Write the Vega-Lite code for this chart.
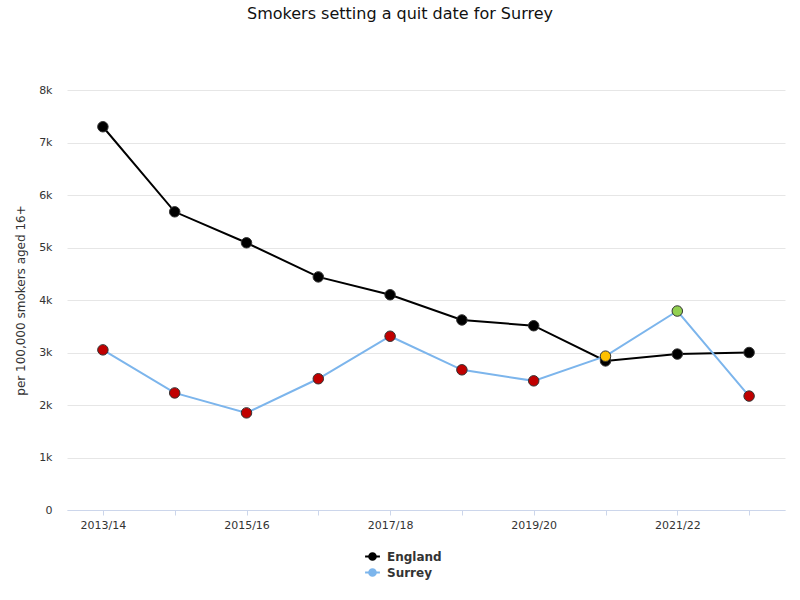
{
  "$schema": "https://vega.github.io/schema/vega-lite/v6.json",
  "autosize": {"type": "none"},
  "width": 718,
  "height": 420,
  "padding": {"left": 67, "top": 90, "right": 15, "bottom": 90},
  "background": "white",
  "title": {
    "text": "Smokers setting a quit date for Surrey",
    "font": "DejaVu Sans",
    "fontSize": 16,
    "fontWeight": "normal",
    "color": "#111",
    "anchor": "middle",
    "offset": 62,
    "dx": -26
  },
  "config": {
    "font": "DejaVu Sans",
    "view": {"stroke": null}
  },
  "data": {
    "values": [
      {"year": "2013/14", "series": "England", "value": 7300, "marker": "England"},
      {"year": "2014/15", "series": "England", "value": 5680, "marker": "England"},
      {"year": "2015/16", "series": "England", "value": 5090, "marker": "England"},
      {"year": "2016/17", "series": "England", "value": 4440, "marker": "England"},
      {"year": "2017/18", "series": "England", "value": 4100, "marker": "England"},
      {"year": "2018/19", "series": "England", "value": 3620, "marker": "England"},
      {"year": "2019/20", "series": "England", "value": 3510, "marker": "England"},
      {"year": "2020/21", "series": "England", "value": 2840, "marker": "England"},
      {"year": "2021/22", "series": "England", "value": 2970, "marker": "England"},
      {"year": "2022/23", "series": "England", "value": 3000, "marker": "England"},
      {"year": "2013/14", "series": "Surrey", "value": 3050, "marker": "Worse"},
      {"year": "2014/15", "series": "Surrey", "value": 2230, "marker": "Worse"},
      {"year": "2015/16", "series": "Surrey", "value": 1850, "marker": "Worse"},
      {"year": "2016/17", "series": "Surrey", "value": 2500, "marker": "Worse"},
      {"year": "2017/18", "series": "Surrey", "value": 3310, "marker": "Worse"},
      {"year": "2018/19", "series": "Surrey", "value": 2670, "marker": "Worse"},
      {"year": "2019/20", "series": "Surrey", "value": 2460, "marker": "Worse"},
      {"year": "2020/21", "series": "Surrey", "value": 2930, "marker": "Similar"},
      {"year": "2021/22", "series": "Surrey", "value": 3790, "marker": "Better"},
      {"year": "2022/23", "series": "Surrey", "value": 2170, "marker": "Worse"}
    ]
  },
  "encoding": {
    "x": {
      "field": "year",
      "type": "ordinal",
      "scale": {"type": "point", "padding": 0.5},
      "axis": {
        "title": null,
        "labelAngle": 0,
        "labelFontSize": 11,
        "labelColor": "#333",
        "labelPadding": 4,
        "labelExpr": "indexof(['2013/14','2015/16','2017/18','2019/20','2021/22'], datum.value) >= 0 ? datum.value : ''",
        "domainColor": "#ccd6eb",
        "tickColor": "#ccd6eb",
        "tickSize": 5,
        "grid": false
      }
    },
    "y": {
      "field": "value",
      "type": "quantitative",
      "scale": {"domain": [0, 8000], "nice": false},
      "axis": {
        "title": "per 100,000 smokers aged 16+",
        "titleFontSize": 12,
        "titleFontWeight": "normal",
        "titleColor": "#333",
        "titlePadding": 11,
        "format": "~s",
        "labelExpr": "datum.value == 0 ? '0' : datum.label",
        "labelFontSize": 11,
        "labelColor": "#333",
        "labelPadding": 15,
        "values": [0, 1000, 2000, 3000, 4000, 5000, 6000, 7000, 8000],
        "domain": false,
        "ticks": false,
        "gridColor": "#e6e6e6"
      }
    }
  },
  "layer": [
    {
      "mark": {"type": "line", "strokeWidth": 2},
      "encoding": {
        "color": {
          "field": "series",
          "type": "nominal",
          "scale": {"domain": ["England", "Surrey"], "range": ["#000000", "#7cb5ec"]},
          "legend": {
            "title": null,
            "orient": "none",
            "legendX": 297,
            "legendY": 458,
            "direction": "vertical",
            "labelFontSize": 12,
            "labelFontWeight": "bold",
            "labelColor": "#333",
            "rowPadding": 0,
            "symbolType": "M-1,0L1,0M-0.45,0A0.45,0.45 0 1,0 0.45,0A0.45,0.45 0 1,0 -0.45,0",
            "symbolSize": 220,
            "symbolStrokeWidth": 2,
            "labelOffset": 6,
            "encode": {
              "symbols": {
                "update": {
                  "fill": {"scale": "color", "field": "value"},
                  "fillOpacity": {"value": 1}
                }
              }
            }
          }
        }
      }
    },
    {
      "mark": {"type": "point", "filled": true, "size": 110, "stroke": "#333", "strokeWidth": 1, "opacity": 1},
      "encoding": {
        "fill": {
          "field": "marker",
          "type": "nominal",
          "scale": {"domain": ["England", "Worse", "Similar", "Better"], "range": ["#000000", "#c00000", "#ffc000", "#92d050"]},
          "legend": null
        }
      }
    }
  ]
}
